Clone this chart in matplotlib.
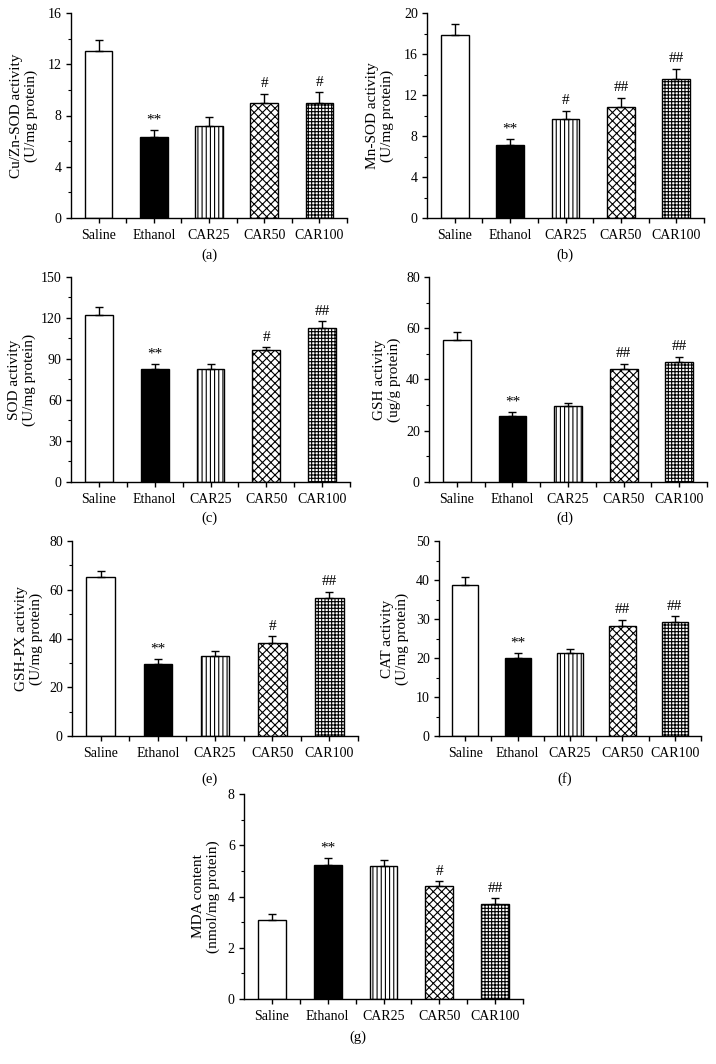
import matplotlib
matplotlib.use("Agg")
import matplotlib.pyplot as plt
from matplotlib.ticker import MultipleLocator, FixedLocator

plt.rcParams['font.family'] = ['Liberation Serif', 'DejaVu Serif']
plt.rcParams['hatch.linewidth'] = 0.8

categories = ["Saline", "Ethanol", "CAR25", "CAR50", "CAR100"]

cuzn_sod = [13.0, 6.3, 7.2, 9.0, 9.0]
cuzn_sod_err = [0.9, 0.55, 0.7, 0.7, 0.8]
cuzn_sod_marks = ["", "**", "", "#", "#"]

mn_sod = [17.9, 7.1, 9.7, 10.8, 13.6]
mn_sod_err = [1.0, 0.65, 0.75, 0.95, 0.95]
mn_sod_marks = ["", "**", "#", "##", "##"]

sod = [122, 82.5, 83, 96.5, 113]
sod_err = [6, 4, 3.5, 2.2, 4.8]
sod_marks = ["", "**", "", "#", "##"]

gsh = [55.5, 25.7, 29.6, 44.0, 46.7]
gsh_err = [3.1, 1.6, 1.3, 2.1, 2.1]
gsh_marks = ["", "**", "", "##", "##"]

gshpx = [65.1, 29.5, 33.0, 38.2, 56.8]
gshpx_err = [2.6, 2.0, 1.7, 2.8, 2.3]
gshpx_marks = ["", "**", "", "#", "##"]

cat = [38.7, 20.0, 21.2, 28.3, 29.3]
cat_err = [2.0, 1.2, 1.0, 1.5, 1.4]
cat_marks = ["", "**", "", "##", "##"]

mda = [3.1, 5.24, 5.2, 4.4, 3.72]
mda_err = [0.2, 0.28, 0.23, 0.19, 0.22]
mda_marks = ["", "**", "", "#", "##"]

facecolors = ["white", "black", "white", "white", "white"]
hatches = ["", "", "||||", "xxxx", "+++++"]

W, H = 716, 1064
fig = plt.figure(figsize=(W / 100, H / 100), dpi=100)

panels = [
    (cuzn_sod, cuzn_sod_err, cuzn_sod_marks, "Cu/Zn-SOD activity\n(U/mg protein)", 16, 4, 2,
     (71, 347, 13, 218), "(a)", (209, 255), 24),
    (mn_sod, mn_sod_err, mn_sod_marks, "Mn-SOD activity\n(U/mg protein)", 20, 4, 2,
     (427, 704, 13, 218), "(b)", (565, 255), 380),
    (sod, sod_err, sod_marks, "SOD activity\n(U/mg protein)", 150, 30, 15,
     (71, 350, 277, 482), "(c)", (209, 518), 22),
    (gsh, gsh_err, gsh_marks, "GSH activity\n(ug/g protein)", 80, 20, 10,
     (429, 707, 277, 482), "(d)", (565, 518), 387),
    (gshpx, gshpx_err, gshpx_marks, "GSH-PX activity\n(U/mg protein)", 80, 20, 10,
     (72, 358, 541, 736), "(e)", (209, 779), 29),
    (cat, cat_err, cat_marks, "CAT activity\n(U/mg protein)", 50, 10, 5,
     (439, 701, 541, 736), "(f)", (565, 779), 395),
    (mda, mda_err, mda_marks, "MDA content\n(nmol/mg protein)", 8, 2, 1,
     (244, 523, 794, 999), "(g)", (358, 1037), 206),
]

x = list(range(len(categories)))

for vals, errs, marks, ylabel, ymax, major, minor, box, lab, labpos, ylx in panels:
    l, r, t, b = box
    ax = fig.add_axes([l / W, 1 - b / H, (r - l) / W, (b - t) / H])
    ax.bar(x, vals, width=0.5, color=facecolors, edgecolor="black",
           linewidth=1.0, hatch=hatches, zorder=2)
    ax.errorbar(x, vals, yerr=[[0] * len(vals), errs], fmt="none",
                ecolor="black", elinewidth=1.0, capsize=3, capthick=1.0, zorder=3)
    for xi, v, e, m in zip(x, vals, errs, marks):
        if m:
            ax.annotate(m, (xi, v + e), xytext=(0, 2.5), textcoords="offset points",
                        ha="center", va="bottom", fontsize=11)
    ax.set_xlim(-0.5, len(categories) - 0.5)
    ax.set_ylim(0, ymax)
    ax.yaxis.set_major_locator(MultipleLocator(major))
    ax.yaxis.set_minor_locator(MultipleLocator(minor))
    ax.set_xticks(x)
    ax.set_xticklabels(categories)
    ax.xaxis.set_minor_locator(FixedLocator([i + 0.5 for i in x]))
    for s in ["top", "right"]:
        ax.spines[s].set_visible(False)
    for s in ["left", "bottom"]:
        ax.spines[s].set_linewidth(1.0)
    ax.tick_params(axis="both", which="major", direction="out", length=3.6,
                   width=1.0, labelsize=10, pad=3)
    ax.tick_params(axis="x", which="major", pad=4.5)
    ax.tick_params(axis="y", which="minor", direction="out", length=2, width=0.8)
    ax.tick_params(axis="x", which="minor", direction="out", length=3.6, width=1.0)
    fig.text(ylx / W, 1 - ((t + b) / 2) / H, ylabel, rotation=90, ha="center",
             va="center", multialignment="center", fontsize=11)
    fig.text(labpos[0] / W, 1 - labpos[1] / H, lab, ha="center", va="center",
             fontsize=10.5)

fig.savefig("out.png", dpi=100)
